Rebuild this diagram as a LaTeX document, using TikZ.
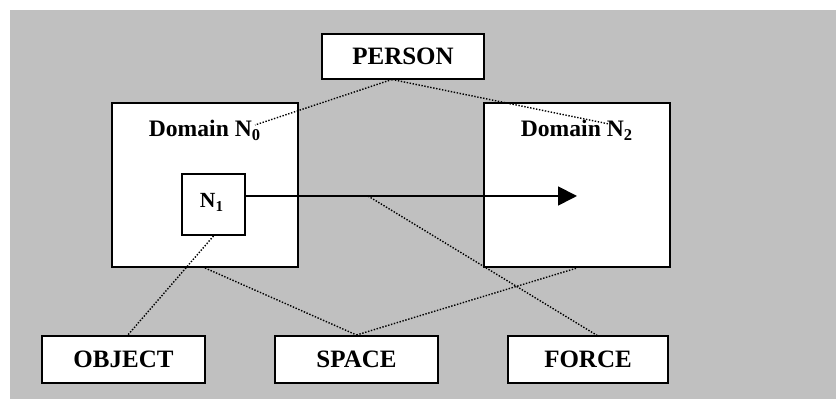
\documentclass[tikz,border=0pt]{standalone}
\usepackage{fontspec}
\setmainfont{Liberation Serif}
\usetikzlibrary{arrows.meta,calc}
\definecolor{panelgray}{HTML}{C0C0C0}
\begin{document}
\begin{tikzpicture}[x=0.5pt,y=-0.5pt,
  box/.style={draw=black,fill=white,line width=1pt,inner sep=0pt,align=center},
  bigtext/.style={font=\fontsize{12.5}{14}\selectfont\bfseries},
  domtext/.style={font=\fontsize{11.8}{13}\selectfont\bfseries,inner sep=0pt},
  link/.style={line width=0.7pt,dash pattern=on 0.7pt off 0.8pt},
  flow/.style={line width=0.9pt,-{Triangle[length=9.5pt,width=9.5pt]}}]
\useasboundingbox (0,0) rectangle (836,399);
\fill[panelgray] (10,10) rectangle (836,399);

% upper concept
\node[box,bigtext,minimum width=81pt,minimum height=22.5pt] (person) at (403,56.5) {PERSON};

% the two domains
\node[box,minimum width=93pt,minimum height=82pt] (d0) at (205,185) {};
\node[box,minimum width=93pt,minimum height=82pt] (d2) at (577,185) {};
\node[domtext,anchor=base] (d0lab) at (205,136.5) {Domain N\textsubscript{0}};
\node[domtext,anchor=base] (d2lab) at (577,136.5) {Domain N\textsubscript{2}};

% inner node and its label
\node[box,minimum width=31.5pt,minimum height=30.5pt] (n1) at (213.5,204.5) {};
\node[domtext,font=\fontsize{10.8}{12}\selectfont\bfseries,anchor=base] (n1lab) at (212,208) {N\textsubscript{1}};

% lower concepts
\node[box,bigtext,minimum width=81.5pt,minimum height=23.5pt] (obj) at (123.5,359.5) {OBJECT};
\node[box,bigtext,minimum width=81.5pt,minimum height=23.5pt] (space) at (356.5,359.5) {SPACE};
\node[box,bigtext,minimum width=80pt,minimum height=23.5pt] (force) at (588,359.5) {FORCE};

% connector ends
\coordinate (ptop) at (392,79.5);
\coordinate (d0end) at (255,125);
\coordinate (d2end) at (609,124);
\coordinate (objtop) at (127,336);
\coordinate (tip) at (577,196);
\coordinate (amid) at (368,196);
\coordinate (forcetop) at (598,336);

% transfer arrow
\draw[flow] (tip -| n1.east) -- (tip);

% dotted relations
\draw[link] (ptop) -- (d0end);
\draw[link] (ptop) -- (d2end);
\draw[link] (n1.south) -- (objtop);
\draw[link] (d0.south) -- (space.north);
\draw[link] (space.north) -- (d2.south);
\draw[link] (amid) -- (forcetop);
\end{tikzpicture}
\end{document}
